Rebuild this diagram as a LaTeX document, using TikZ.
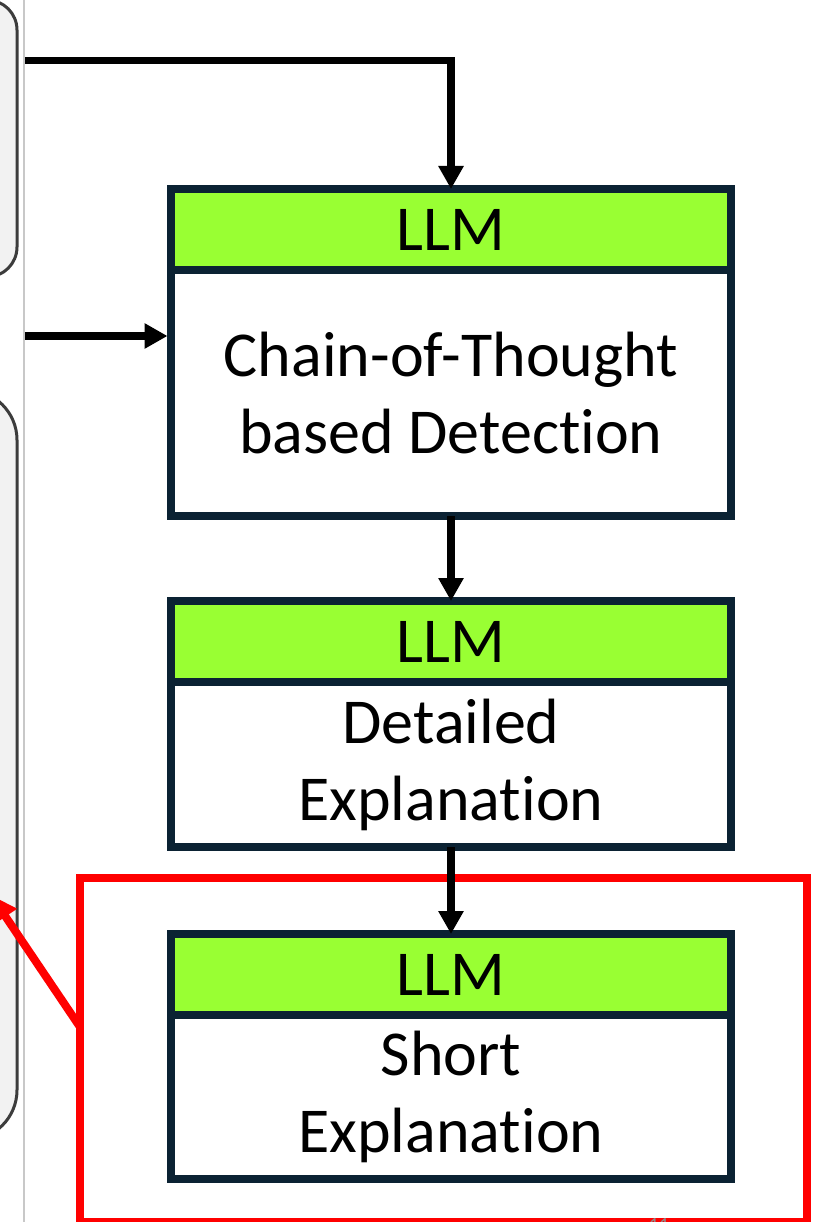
\documentclass[tikz,border=0pt]{standalone}
\usepackage{fontspec}
\setmainfont{Carlito}[Ligatures={NoCommon}]
\usetikzlibrary{arrows.meta}
\definecolor{llmgreen}{HTML}{99FF33}
\definecolor{boxline}{HTML}{0B2233}
\definecolor{panelfill}{HTML}{F2F2F2}
\definecolor{panelline}{HTML}{3C3C3C}
\definecolor{divider}{HTML}{C8C8C8}
\definecolor{pagegray}{HTML}{8C8C8C}
\begin{document}
\begin{tikzpicture}[x=1pt,y=-1pt,
  header/.style={draw=boxline, line width=7.5pt, fill=llmgreen, minimum width=560pt,
    minimum height=81pt, inner sep=0pt, outer sep=0pt, anchor=north,
    font=\fontsize{64}{77}\selectfont},
  body/.style={draw=boxline, line width=7.5pt, fill=white, minimum width=560pt,
    inner sep=0pt, outer sep=0pt, anchor=north, align=center,
    font=\fontsize{64}{77}\selectfont},
  flow/.style={line width=7.5pt, -{Triangle[width=24pt,length=23pt]}},
  panel/.style={draw=panelline, fill=panelfill, line width=3pt},
  focusframe/.style={draw=red, line width=8.5pt, inner sep=0pt, outer sep=0pt},
  callout/.style={draw=red, line width=8pt, -{Triangle[width=26pt,length=26pt]}}]
\useasboundingbox (0,0) rectangle (815,1222);
\clip (0,0) rectangle (815,1222);

% panels on the left edge
\draw[panel, rounded corners=30pt] (-200,0) rectangle (17,277);
\draw[panel, rounded corners=50pt] (-200,390) rectangle (17,1140);
\draw[divider, line width=2pt] (23.7,0) -- (23.7,1222);

% highlight frame around the last stage
\node[focusframe, minimum width=727pt, minimum height=344pt] (focus) at (443.5,1050) {};

% pipeline stages
\node[header] (llm1) at (451,189) {LLM};
\node[body, minimum height=246pt] (cot) at (llm1.south) {Chain-of-Thought\\based Detection};
\node[header] (llm2) at (451,601) {LLM};
\node[body, minimum height=165pt] (detail) at (llm2.south) {Detailed\\Explanation};
\node[header] (llm3) at (451,934) {LLM};
\node[body, minimum height=164pt] (short) at (llm3.south) {Short\\Explanation};

% connectors
\coordinate (src1) at (25,60.5);
\coordinate (src2) at (25,336);
\draw[flow] (src1) -| (llm1.north);
\draw[flow, shorten >=3.5pt] (src2) -- (src2 -| cot.west);
\draw[flow] (cot.south) -- (llm2.north);
\draw[flow] (detail.south) -- (llm3.north);

% red callout towards the left panel
\coordinate (calloutstart) at (80,1027);
\coordinate (callouttarget) at (-9,895);
\draw[callout] (calloutstart) -- (callouttarget);

% page number at the bottom edge
\node[text=pagegray, font=\fontsize{20}{24}\selectfont, anchor=base] (pagenum) at (659,1231) {11};
\end{tikzpicture}
\end{document}
